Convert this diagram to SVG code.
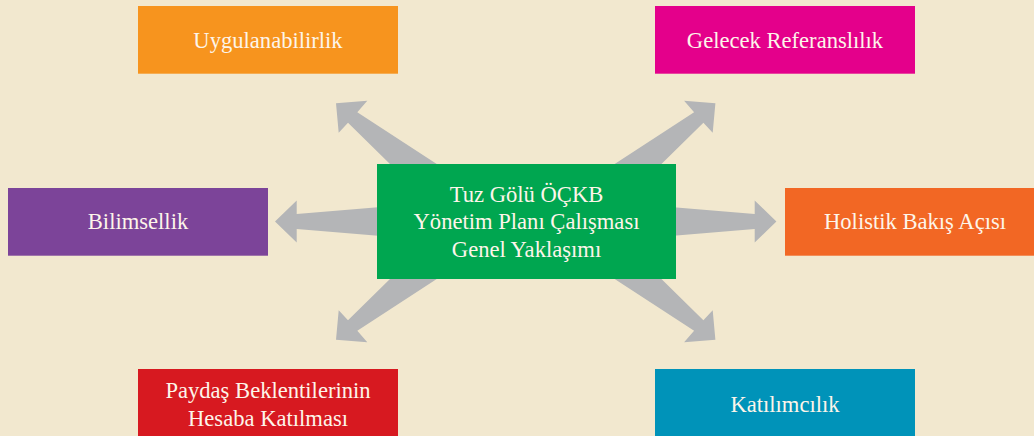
<svg xmlns="http://www.w3.org/2000/svg" width="1034" height="436" viewBox="0 0 1034 436">
<style>
.bg{fill:#f2e8cf}
.arr{fill:#b4b5b7}
.lbl{font-family:"Liberation Serif","Times New Roman",serif;font-size:22.6px;fill:#fdf5ea;text-anchor:middle}
</style>
<rect class="bg" x="0" y="0" width="1034" height="436"/>
<g id="connectors">
<polygon class="arr" points="336,103.3 367.3,100.7 357.3,112.3 492,200 426.6,200 348,122.7 338.7,132.7"/>
<polygon class="arr" points="715.4,103.3 684.1,100.7 694.1,112.3 559.4,200 624.8,200 703.4,122.7 712.7,132.7"/>
<polygon class="arr" points="336,339.7 367.3,342.3 357.3,330.7 492,243 426.6,243 348,320.3 338.7,310.3"/>
<polygon class="arr" points="715.4,339.7 684.1,342.3 694.1,330.7 559.4,243 624.8,243 703.4,320.3 712.7,310.3"/>
<polygon class="arr" points="275,221.5 296.7,200.5 296.7,214 420,203.7 420,239.3 296.7,229 296.7,242.5"/>
<polygon class="arr" points="776.4,221.5 754.7,200.5 754.7,214 631.4,203.7 631.4,239.3 754.7,229 754.7,242.5"/>
</g>
<g id="center">
<rect x="377" y="164" width="299" height="115" fill="#00a650"/>
<text class="lbl" x="526.5" y="201.5">Tuz Gölü ÖÇKB</text>
<text class="lbl" x="526.5" y="229.3">Yönetim Planı Çalışması</text>
<text class="lbl" x="526.5" y="257.2">Genel Yaklaşımı</text>
</g>
<g id="uygulanabilirlik">
<rect x="138" y="6" width="260" height="67.7" fill="#f7941e"/>
<text class="lbl" x="268" y="48.3">Uygulanabilirlik</text>
</g>
<g id="gelecek">
<rect x="655" y="6" width="260" height="67.7" fill="#e4008b"/>
<text class="lbl" x="785" y="48.3">Gelecek Referanslılık</text>
</g>
<g id="bilimsellik">
<rect x="8" y="188" width="260" height="67.7" fill="#7c4499"/>
<text class="lbl" x="138" y="229.3">Bilimsellik</text>
</g>
<g id="holistik">
<rect x="785" y="188" width="260" height="67.7" fill="#f26724"/>
<text class="lbl" x="915" y="229.3">Holistik Bakış Açısı</text>
</g>
<g id="paydas">
<rect x="138" y="369" width="260" height="67.7" fill="#d71920"/>
<text class="lbl" x="268" y="398.3">Paydaş Beklentilerinin</text>
<text class="lbl" x="268" y="425.7">Hesaba Katılması</text>
</g>
<g id="katilimcilik">
<rect x="655" y="369" width="260" height="67.7" fill="#0093b9"/>
<text class="lbl" x="785" y="412.3">Katılımcılık</text>
</g>
</svg>
